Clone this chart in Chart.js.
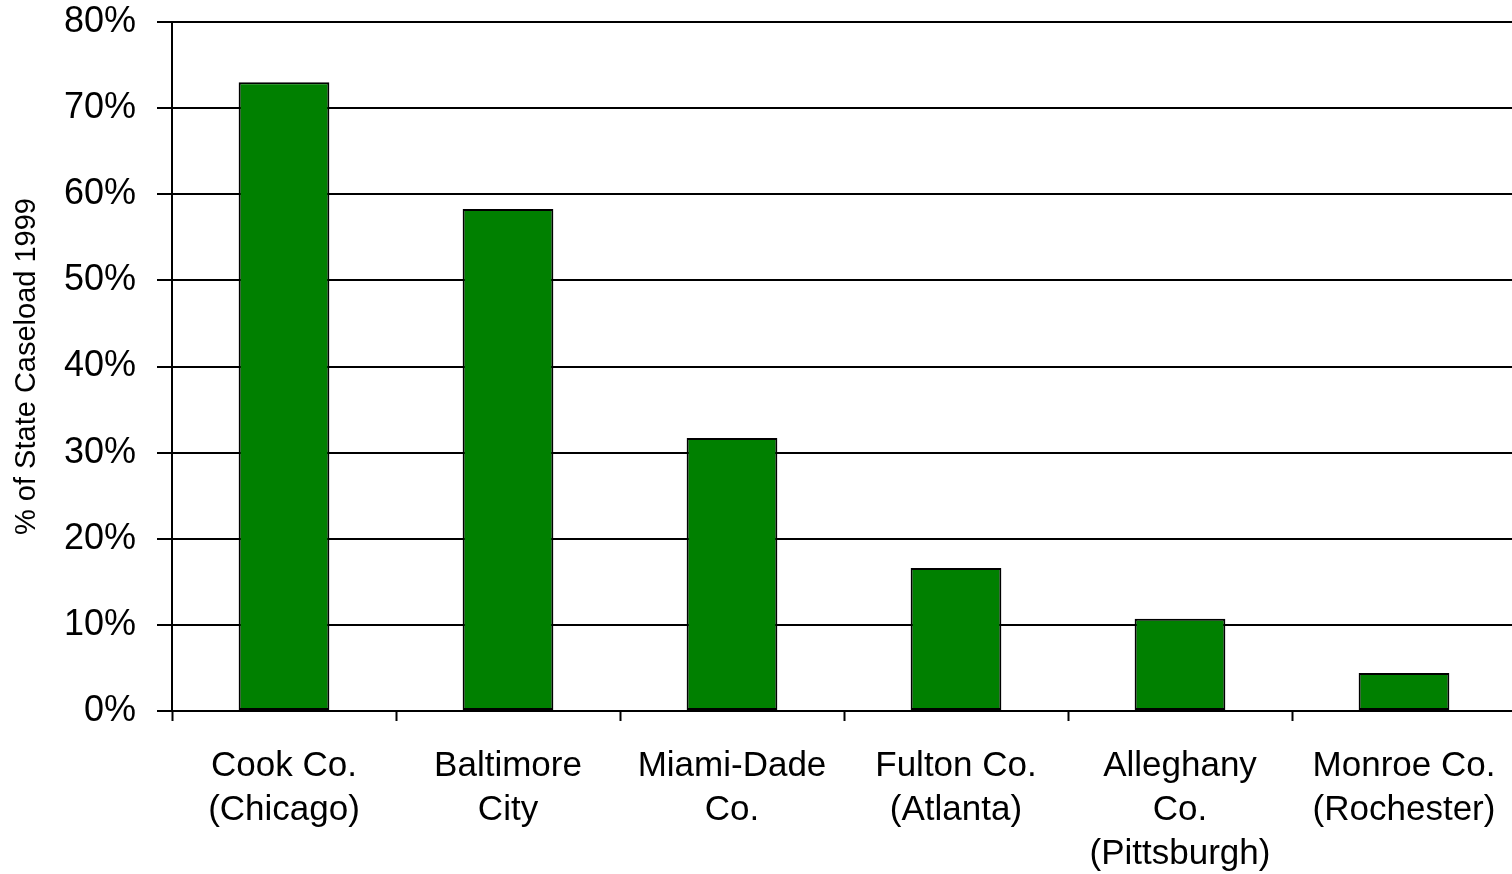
<!DOCTYPE html>
<html>
<head>
<meta charset="utf-8">
<script src="https://cdn.jsdelivr.net/npm/chart.js@4/dist/chart.umd.min.js"></script>
<style>
  html, body { margin: 0; padding: 0; background: #ffffff; overflow: hidden; }
  #caseload { display: block; }
</style>
</head>
<body>
<canvas id="caseload" width="1520" height="874"></canvas>
<script>
// County share of state caseload, 1999
var counties = [
  ['Cook Co.', '(Chicago)'],
  ['Baltimore', 'City'],
  ['Miami-Dade', 'Co.'],
  ['Fulton Co.', '(Atlanta)'],
  ['Alleghany', 'Co.', '(Pittsburgh)'],
  ['Monroe Co.', '(Rochester)']
];
var caseloadShare = [73, 58.3, 31.7, 16.6, 10.7, 4.4];
var yTicks = [0, 10, 20, 30, 40, 50, 60, 70, 80];
var yTitle = '% of State Caseload 1999';

var fontFamily = 'Arial, "Liberation Sans", sans-serif';

new Chart(document.getElementById('caseload'), {
  type: 'bar',
  data: {
    labels: counties,
    datasets: [{
      data: caseloadShare,
      backgroundColor: '#008000',
      borderColor: '#000000',
      borderWidth: 2,
      borderSkipped: false,
      barPercentage: 0.405,
      categoryPercentage: 1
    }]
  },
  options: {
    responsive: false,
    animation: false,
    layout: { padding: { top: 22, left: 0, right: 4, bottom: 0 } },
    plugins: {
      legend: { display: false },
      tooltip: { enabled: false }
    },
    scales: {
      x: {
        offset: true,
        grid: {
          offset: true,
          drawOnChartArea: false,
          drawTicks: true,
          tickLength: 10,
          tickWidth: 2,
          tickColor: '#000000'
        },
        border: { display: true, color: '#000000', width: 2 },
        ticks: {
          color: '#000000',
          padding: 23,
          maxRotation: 0,
          autoSkip: false,
          font: { family: fontFamily, size: 35, lineHeight: 1.257 }
        },
        afterFit: function(scale) {
          scale.height = 163;
          scale.paddingLeft = 0;
          scale.paddingRight = 0;
        }
      },
      y: {
        min: 0,
        max: 80,
        afterBuildTicks: function(scale) {
          scale.ticks = yTicks.map(function(v) { return { value: v }; });
        },
        grid: {
          color: '#000000',
          lineWidth: 2,
          tickLength: 15,
          tickColor: '#000000'
        },
        border: { display: true, color: '#000000', width: 2 },
        ticks: {
          color: '#000000',
          padding: 21,
          font: { family: fontFamily, size: 36 },
          callback: function(v) { return v + '%'; }
        },
        title: {
          display: true,
          text: yTitle,
          color: '#000000',
          padding: { top: 10, bottom: 0 },
          font: { family: fontFamily, size: 29 }
        },
        afterFit: function(scale) {
          scale.width = 172;
          scale.paddingTop = 0;
          scale.paddingBottom = 0;
        }
      }
    }
  }
});
</script>
</body>
</html>
